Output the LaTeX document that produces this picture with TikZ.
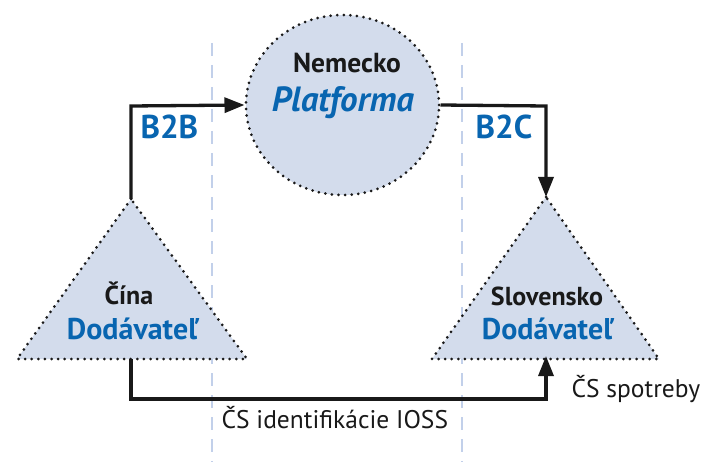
\documentclass[tikz,border=0pt]{standalone}
\usepackage{fontspec}
\setmainfont{PT Sans}
\usetikzlibrary{arrows.meta,shapes.geometric}
\definecolor{tblue}{HTML}{0865B0}
\definecolor{tfill}{HTML}{D3DCEC}
\definecolor{tdash}{HTML}{C2D0EA}
\begin{document}
\begin{tikzpicture}[x=1pt, y=-1pt,
    dots/.style={draw=black!90, line width=3pt, dash pattern=on 0pt off 6.6pt, line cap=round},
    flow/.style={line width=3.3pt, draw=black!90, -{Triangle[length=20pt,width=15pt]}},
    tag/.style={text=tblue, font=\bfseries\fontsize{33}{33}\selectfont},
    country/.style={text=black!90, font=\bfseries\fontsize{26}{26}\selectfont},
    role/.style={text=tblue, font=\bfseries\fontsize{30}{30}\selectfont},
    note/.style={text=black!90, font=\fontsize{25.5}{25.5}\selectfont}]
    \useasboundingbox (0,0) rectangle (709,465);
    % separators
    \draw[tdash, line width=2.6pt, dash pattern=on 13pt off 9pt] (212,43) -- (212,462);
    \draw[tdash, line width=2.6pt, dash pattern=on 13pt off 9pt] (462,43) -- (462,462);
    % platform
    \node[ellipse, fill=tfill, dots, minimum width=193pt, minimum height=180pt, inner sep=0pt] (plat) at (342.5,105) {};
    \node[country, font=\bfseries\fontsize{27.5}{27.5}\selectfont] (de) at (347,63) {Nemecko};
    \node[tag, font=\bfseries\itshape\fontsize{35}{35}\selectfont] (platname) at (343,103) {Platforma};
    % suppliers
    \coordinate (cnTop) at (131,199);
    \coordinate (cnBot) at (131,359);
    \coordinate (skTop) at (546,197);
    \coordinate (skBot) at (546,359);
    \fill[tfill] (cnTop) -- (17,359) -- (247,359) -- cycle;
    \path[dots] (cnTop) -- (17,359) -- (247,359) -- cycle;
    \fill[tfill] (skTop) -- (432,359) -- (659,359) -- cycle;
    \path[dots] (skTop) -- (432,359) -- (659,359) -- cycle;
    \node[country] (cn) at (129,293) {Čína};
    \node[role] (cnrole) at (132,329) {Dodávateľ};
    \node[country] (sk) at (547,296) {Slovensko};
    \node[role] (skrole) at (547,329) {Dodávateľ};
    % flows
    \coordinate (b2bCorner) at (131,106);
    \coordinate (b2cCorner) at (546,106);
    \draw[flow] (cnTop) -- (b2bCorner) -- (plat.west);
    \draw[flow] (plat.east) -- (b2cCorner) -- (skTop);
    \coordinate (iossL) at (131,399);
    \coordinate (iossR) at (546,399);
    \draw[flow] (cnBot) -- (iossL) -- (iossR) -- ([yshift=3pt]skBot);
    \node[tag, anchor=west] (b2b) at (137,127) {B2B};
    \node[tag, anchor=west] (b2c) at (472,127) {B2C};
    \node[note, anchor=west] (ioss) at (218,418) {ČS identifikácie IOSS};
    \node[note, anchor=west] (spot) at (568,389) {ČS spotreby};
\end{tikzpicture}
\end{document}
